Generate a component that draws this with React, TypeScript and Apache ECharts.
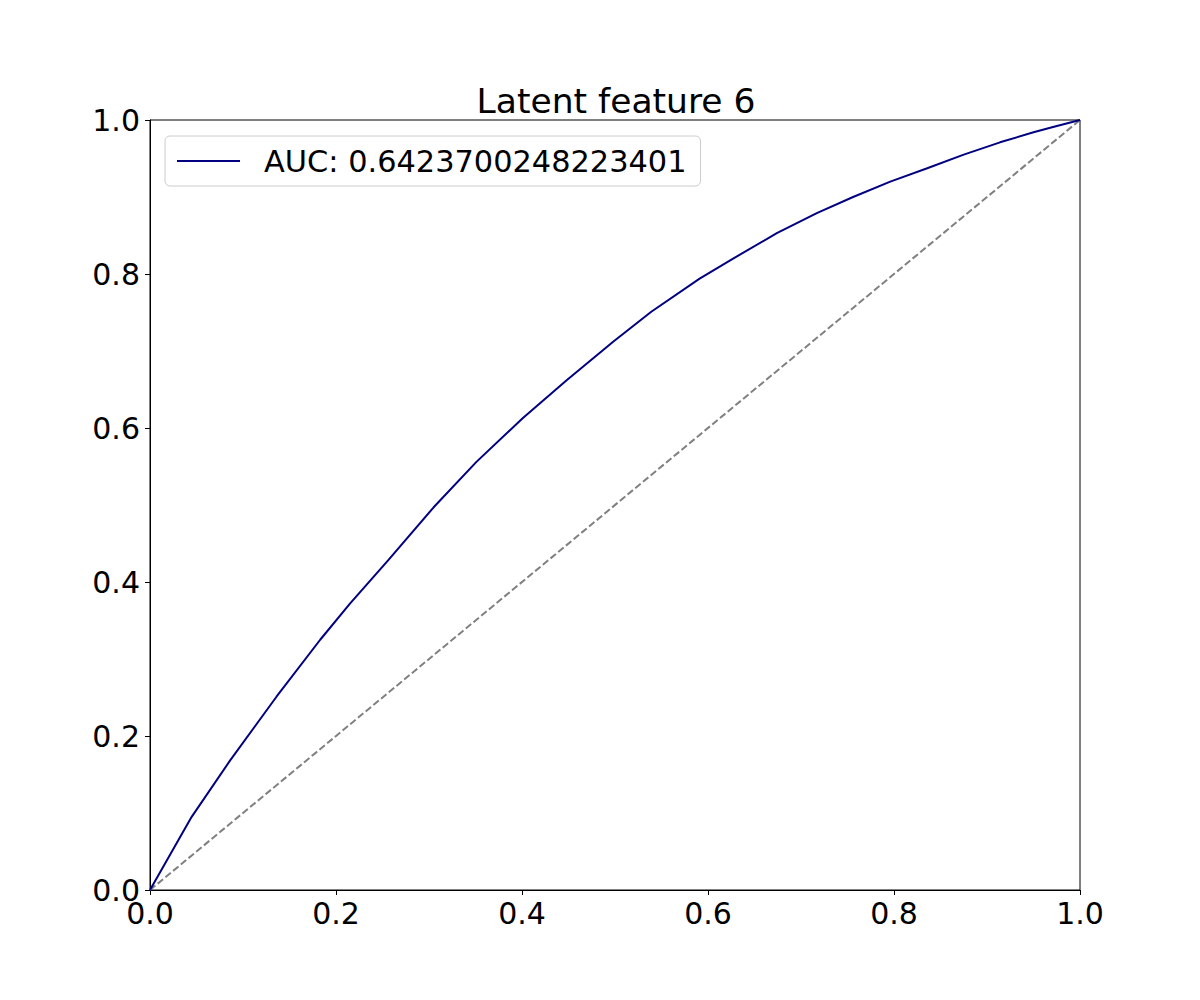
import React, { useEffect, useRef } from "react";
import * as echarts from "echarts";

const titleText = "Latent feature 6";
const legendLabel = "AUC: 0.6423700248223401";

const fpr = [
  0, 0.0448, 0.086, 0.136, 0.183, 0.215, 0.256, 0.305, 0.351, 0.401, 0.448,
  0.498, 0.539, 0.591, 0.627, 0.674, 0.717, 0.756, 0.796, 0.835, 0.875,
  0.914, 0.95, 0.971, 1,
];
const tpr = [
  0, 0.095, 0.168, 0.251, 0.325, 0.372, 0.428, 0.497, 0.556, 0.613, 0.662,
  0.712, 0.751, 0.794, 0.82, 0.853, 0.879, 0.9, 0.92, 0.937, 0.955,
  0.971, 0.984, 0.991, 1,
];
const diagX = [0, 1];
const diagY = [0, 1];

const FONT = "DejaVu Sans";

export default function App() {
  const ref = useRef<HTMLDivElement>(null);
  useEffect(() => {
    if (!ref.current) return;
    const chart = echarts.init(ref.current, null, { renderer: "svg" });
    const axisCommon = {
      type: "value",
      min: 0,
      max: 1,
      interval: 0.2,
      splitLine: { show: false },
      axisLine: { show: true, lineStyle: { color: "#000", width: 1 } },
      axisTick: { show: true, inside: false, length: 5, lineStyle: { color: "#000" } },
      axisLabel: {
        color: "#000",
        fontFamily: FONT,
        fontSize: 30,
        formatter: (v: number) => v.toFixed(1),
      },
    };
    chart.setOption({
      animation: false,
      backgroundColor: "#fff",
      title: {
        text: titleText,
        left: 611,
        textAlign: "center",
        top: 78,
        textStyle: { fontFamily: FONT, fontSize: 34.5, fontWeight: "normal", color: "#000" },
      },
      grid: {
        left: 150,
        top: 120,
        width: 930,
        height: 770,
        show: true,
        borderColor: "#000",
        borderWidth: 1,
        backgroundColor: "transparent",
      },
      legend: {
        left: 165,
        top: 136,
        orient: "vertical",
        data: [{ name: legendLabel, icon: "rect" }],
        itemWidth: 63,
        itemHeight: 2,
        padding: [10, 14, 10, 12],
        borderColor: "#cccccc",
        borderWidth: 1,
        borderRadius: 5,
        backgroundColor: "rgba(255,255,255,0.8)",
        textStyle: {
          fontFamily: FONT,
          fontSize: 30.4,
          color: "#000",
          padding: [0, 0, 0, 19],
        },
      },
      xAxis: {
        ...axisCommon,
        axisLabel: { ...axisCommon.axisLabel, margin: 8 },
      },
      yAxis: {
        ...axisCommon,
        axisLabel: { ...axisCommon.axisLabel, margin: 10 },
      },
      series: [
        {
          name: legendLabel,
          type: "line",
          data: fpr.map((x, i) => [x, tpr[i]]),
          showSymbol: false,
          symbol: "none",
          lineStyle: { color: "#000080", width: 2 },
          itemStyle: { color: "#000080" },
          z: 3,
        },
        {
          name: "chance",
          type: "line",
          data: diagX.map((x, i) => [x, diagY[i]]),
          showSymbol: false,
          symbol: "none",
          lineStyle: { color: "#808080", width: 2, type: [7, 3] },
          z: 2,
        },
      ],
    });
    return () => chart.dispose();
  }, []);
  return (
    <div
      ref={ref}
      style={{ position: "absolute", left: 0, top: 0, width: 1200, height: 1000 }}
    />
  );
}
